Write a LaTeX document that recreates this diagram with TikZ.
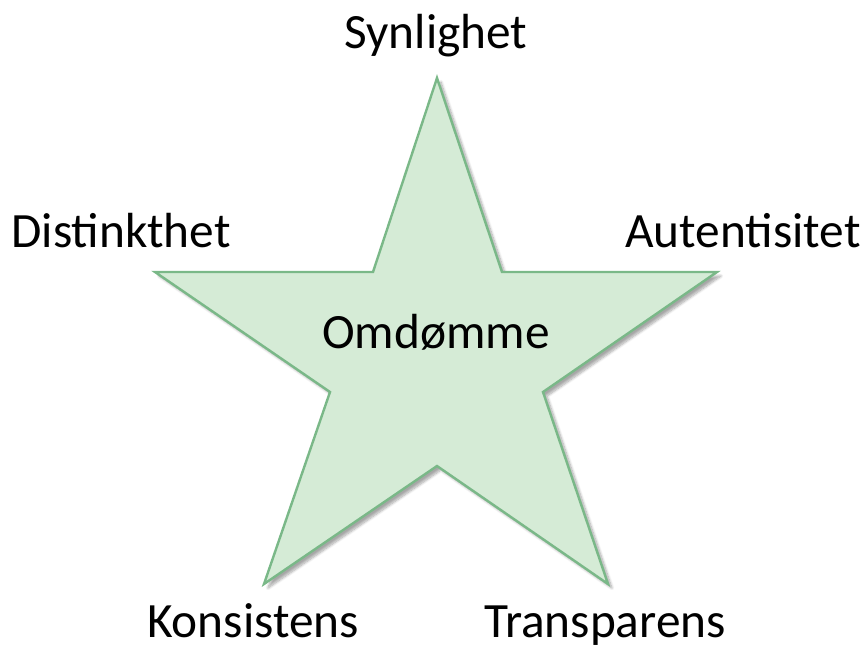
\documentclass[tikz,border=0pt]{standalone}
\usepackage{fontspec}
\setmainfont{Carlito}
\usepackage{xcolor}
\usetikzlibrary{shadows.blur}
\definecolor{starfill}{RGB}{213,235,214}
\definecolor{stardraw}{RGB}{122,184,136}

\begin{document}
\begin{tikzpicture}[x=0.75pt, y=-0.75pt,
  every node/.style={font=\fontsize{37}{40}\selectfont, anchor=base, inner sep=0pt}]
\useasboundingbox (0,0) rectangle (868,650);
% ---- star points
\coordinate (top) at (437,78);
\coordinate (itl) at (373,272);
\coordinate (lft) at (155,272);
\coordinate (ilf) at (330,392);
\coordinate (blf) at (264,584);
\coordinate (ibt) at (437,466);
\coordinate (brt) at (608,584);
\coordinate (irt) at (543,392);
\coordinate (rgt) at (717,272);
\coordinate (itr) at (502,272);
\draw[fill=starfill, draw=stardraw, line width=1.8pt, line join=miter,
  blur shadow={shadow xshift=3pt, shadow yshift=-3pt, shadow blur steps=8, shadow opacity=35}]
  (top) -- (itr) -- (rgt) -- (irt) -- (brt) -- (ibt) -- (blf) -- (ilf) -- (lft) -- (itl) -- cycle;
% ---- labels
\node (center) at (436,348) {Omdømme};
\node (synl) at (436,48) {Synlighet};
\node (dist) at (121,247) {Distinkthet};
\node (aut) at (743,247) {Autentisitet};
\node (kons) at (253,637) {Konsistens};
\node (trans) at (605,637) {Transparens};
\end{tikzpicture}
\end{document}
